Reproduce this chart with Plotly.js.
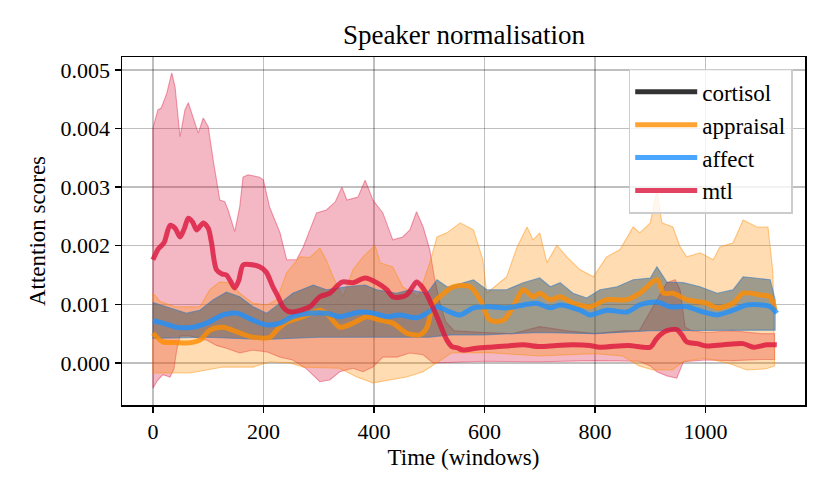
<!DOCTYPE html>
<html>
<head>
<meta charset="utf-8">
<script src="https://cdn.plot.ly/plotly-3.0.1.min.js"></script>
<style>
  html, body { margin: 0; padding: 0; background: #fff; }
  #chart { width: 830px; height: 498px; }
</style>
</head>
<body>
<div id="chart"></div>
<script>
// mtl
var mtlX = [0,10,20,31,40,49,57,64,72,79,91,100,106,115,125,133,140,148,155,163,175,193,205,217,227,235,245,253,268,284,302,320,342,362,384,405,423,434,446,459,468,477,487,496,505,514,523,532,541,550,561,585,610,640,670,700,730,760,790,809,860,900,910,918,930,948,957,966,985,1002,1032,1068,1087,1111,1129];
var mtlMean = [0.00176,0.00195,0.00205,0.00235,0.00230,0.00215,0.00230,0.00247,0.00240,0.00227,0.00239,0.00230,0.00205,0.00159,0.00152,0.00150,0.00140,0.00128,0.00140,0.00167,0.00168,0.00164,0.00155,0.00130,0.00112,0.00096,0.00088,0.00087,0.00090,0.00096,0.00113,0.00119,0.00138,0.00137,0.00145,0.00137,0.00125,0.00113,0.00112,0.00116,0.00127,0.00138,0.00130,0.00116,0.00098,0.00079,0.00058,0.00039,0.00028,0.00026,0.00022,0.00025,0.00027,0.00029,0.00031,0.00028,0.00030,0.00031,0.00030,0.00027,0.00030,0.00027,0.00040,0.00048,0.00055,0.00057,0.00048,0.00036,0.00033,0.00029,0.00031,0.00033,0.00027,0.00031,0.00031];
var mtlUpX = [0,9,15,25,34,40,49,58,64,72,82,91,100,109,121,130,136,148,157,163,172,193,200,211,230,242,260,272,296,314,330,342,351,371,384,398,416,434,452,465,477,489,501,510,520,530,545,600,650,700,750,800,850,880,905,920,930,945,954,963,975,1000,1050,1100,1125];
var mtlUp = [0.00401,0.00432,0.00435,0.00460,0.00495,0.00471,0.00386,0.00432,0.00444,0.00420,0.00392,0.00418,0.00403,0.00346,0.00278,0.00275,0.00261,0.00224,0.00266,0.00317,0.00321,0.00317,0.00312,0.00266,0.00222,0.00176,0.00176,0.00198,0.00256,0.00261,0.00275,0.00300,0.00278,0.00283,0.00312,0.00278,0.00256,0.00210,0.00215,0.00227,0.00258,0.00232,0.00193,0.00142,0.00100,0.00070,0.00055,0.00052,0.00050,0.00062,0.00055,0.00050,0.00055,0.00055,0.00096,0.00120,0.00137,0.00142,0.00125,0.00061,0.00055,0.00052,0.00055,0.00050,0.00050];
var mtlLoX = [0,8,18,31,38,43,49,67,97,115,133,157,181,206,230,253,278,302,320,338,362,380,398,416,441,465,489,507,532,600,700,800,880,900,912,930,948,960,1000,1050,1100,1125];
var mtlLo = [-0.00043,-0.00030,-0.00020,-0.00024,-0.00010,0.00022,0.00046,0.00046,0.00039,0.00030,0.00025,0.00017,0.00022,0.00019,0.00010,0.00005,-0.00010,-0.00032,-0.00029,-0.00015,-0.00009,-0.00015,-0.00007,0.00010,0.00010,0.00017,0.00014,0.00000,0.00000,0.00003,0.00002,0.00004,0.00003,-0.00005,-0.00015,-0.00022,-0.00026,0.00002,0.00005,0.00004,0.00006,0.00006];

// appraisal
var appX = [0,18,40,61,85,103,127,152,181,212,224,242,272,302,314,338,362,387,411,434,459,483,496,507,519,543,574,592,610,634,652,670,688,700,719,737,760,791,821,858,881,912,924,941,966,1002,1021,1050,1068,1099,1117,1126];
var appMean = [0.00051,0.00036,0.00035,0.00034,0.00039,0.00056,0.00061,0.00053,0.00044,0.00044,0.00056,0.00070,0.00079,0.00090,0.00085,0.00061,0.00068,0.00079,0.00073,0.00068,0.00051,0.00048,0.00061,0.00102,0.00113,0.00130,0.00130,0.00108,0.00073,0.00073,0.00096,0.00125,0.00113,0.00119,0.00108,0.00113,0.00102,0.00096,0.00108,0.00108,0.00119,0.00142,0.00119,0.00119,0.00108,0.00102,0.00094,0.00102,0.00119,0.00116,0.00113,0.00090];
var appUpX = [0,13,40,61,85,103,121,139,157,181,206,224,242,266,284,302,314,326,344,362,380,402,411,434,452,480,501,514,532,556,580,597,604,640,659,677,688,700,713,731,749,773,797,821,845,869,881,900,912,921,941,954,966,990,1014,1026,1050,1068,1093,1113,1122];
var appUp = [0.00119,0.00105,0.00096,0.00096,0.00096,0.00125,0.00138,0.00137,0.00119,0.00102,0.00099,0.00108,0.00154,0.00181,0.00180,0.00196,0.00175,0.00147,0.00113,0.00159,0.00181,0.00201,0.00171,0.00164,0.00130,0.00113,0.00171,0.00215,0.00222,0.00239,0.00227,0.00176,0.00119,0.00147,0.00198,0.00232,0.00210,0.00222,0.00171,0.00201,0.00181,0.00159,0.00147,0.00181,0.00193,0.00232,0.00222,0.00239,0.00295,0.00239,0.00232,0.00198,0.00181,0.00188,0.00176,0.00198,0.00205,0.00244,0.00232,0.00232,0.00154];
var appLoX = [0,67,127,181,212,248,272,338,369,398,429,459,489,514,540,600,650,700,750,800,850,880,905,940,960,1000,1040,1075,1110,1125];
var appLo = [-0.00017,-0.00017,-0.00007,-0.00007,0.00002,0.00000,-0.00007,-0.00009,-0.00024,-0.00034,-0.00029,-0.00024,-0.00015,0.00000,0.00017,0.00018,0.00015,0.00012,0.00014,0.00016,0.00012,-0.00005,-0.00012,-0.00012,0.00003,0.00008,0.00000,-0.00012,-0.00010,-0.00005];

// affect
var affX = [0,18,43,72,97,127,152,181,206,230,253,284,314,338,375,398,423,447,477,496,514,537,556,580,610,640,670,694,719,737,773,791,821,858,881,912,936,966,996,1021,1050,1075,1117,1129];
var affMean = [0.00072,0.00068,0.00061,0.00061,0.00068,0.00082,0.00085,0.00073,0.00065,0.00068,0.00079,0.00085,0.00085,0.00079,0.00087,0.00085,0.00079,0.00082,0.00077,0.00085,0.00096,0.00087,0.00082,0.00094,0.00096,0.00094,0.00099,0.00102,0.00094,0.00099,0.00090,0.00082,0.00090,0.00087,0.00099,0.00104,0.00096,0.00096,0.00087,0.00082,0.00090,0.00099,0.00096,0.00085];
var affUpX = [0,31,61,85,109,133,157,181,206,230,253,290,314,350,384,405,441,465,496,514,532,537,580,604,640,670,700,719,737,760,785,809,840,869,900,912,930,960,990,1021,1050,1068,1093,1117,1126];
var affUp = [0.00103,0.00094,0.00085,0.00090,0.00108,0.00121,0.00113,0.00096,0.00085,0.00102,0.00119,0.00133,0.00125,0.00130,0.00133,0.00125,0.00119,0.00125,0.00119,0.00142,0.00130,0.00130,0.00142,0.00125,0.00125,0.00137,0.00145,0.00130,0.00137,0.00119,0.00111,0.00125,0.00130,0.00142,0.00145,0.00164,0.00138,0.00137,0.00130,0.00119,0.00125,0.00147,0.00145,0.00142,0.00108];
var affLoX = [0,100,200,300,400,500,540,600,700,800,900,1000,1100,1126];
var affLo = [0.00042,0.00044,0.00040,0.00044,0.00044,0.00044,0.00048,0.00048,0.00052,0.00050,0.00055,0.00056,0.00056,0.00056];

function band(upX, up, loX, lo, fill, edge)
{
    // polygon: upper edge left to right, lower edge right to left
    var x = upX.slice();
    var y = up.slice();
    for(var iii = loX.length - 1; iii >= 0; iii--)
    {
        x.push(loX[iii]);
        y.push(lo[iii]);
    }
    x.push(upX[0]);
    y.push(up[0]);
    return {
        x: x, y: y, type: 'scatter', mode: 'lines', fill: 'toself',
        fillcolor: fill, line: {color: edge, width: 1.1},
        hoverinfo: 'skip', showlegend: false
    };
}

function meanLine(x, y, name, color, rank)
{
    return {
        x: x, y: y, type: 'scatter', mode: 'lines', name: name,
        line: {color: color, width: 5, shape: 'spline', smoothing: 0.8},
        legendgroup: name, legendrank: rank
    };
}

var traces = [
    band(mtlUpX, mtlUp, mtlLoX, mtlLo, 'rgba(220,20,60,0.30)', 'rgba(220,20,60,0.40)'),
    band(appUpX, appUp, appLoX, appLo, 'rgba(255,140,0,0.30)', 'rgba(255,140,0,0.45)'),
    band(affUpX, affUp, affLoX, affLo, 'rgba(45,78,95,0.46)', 'rgba(40,120,200,0.55)'),
    {x: [null], y: [null], type: 'scatter', mode: 'lines', name: 'cortisol',
     line: {color: 'rgba(0,0,0,0.8)', width: 5}, legendgroup: 'cortisol', legendrank: 1},
    meanLine(appX, appMean, 'appraisal', 'rgba(255,140,0,0.8)', 2),
    meanLine(affX, affMean, 'affect', 'rgba(30,144,255,0.8)', 3),
    meanLine(mtlX, mtlMean, 'mtl', 'rgba(220,20,60,0.8)', 4)
];

var font = 'Liberation Serif, DejaVu Serif, serif';
var layout = {
    width: 830,
    height: 498,
    margin: {l: 122, r: 25, t: 57, b: 93},
    paper_bgcolor: '#fff',
    plot_bgcolor: '#fff',
    font: {family: font, size: 22, color: '#000'},
    title: {text: 'Speaker normalisation', font: {family: font, size: 27}, x: 0.559, xanchor: 'center', y: 0.93, yanchor: 'middle'},
    xaxis: {
        range: [-56, 1180], tickvals: [0,200,400,600,800,1000], ticktext: ['0','200','400','600','800','1000'],
        showgrid: true, gridcolor: 'rgba(0,0,0,0.25)', gridwidth: 1.3,
        ticks: 'outside', ticklen: 6, tickwidth: 1.3, tickcolor: '#000',
        showline: true, linecolor: '#000', linewidth: 1.5, mirror: true, zeroline: false,
        tickfont: {size: 22},
        title: {text: 'Time (windows)', font: {size: 23}, standoff: 6}
    },
    yaxis: {
        range: [-0.000717, 0.00522], tickvals: [0,0.001,0.002,0.003,0.004,0.005],
        ticktext: ['0.000','0.001','0.002','0.003','0.004','0.005'],
        showgrid: true, gridcolor: 'rgba(0,0,0,0.25)', gridwidth: 1.3,
        ticks: 'outside', ticklen: 6, tickwidth: 1.3, tickcolor: '#000',
        showline: true, linecolor: '#000', linewidth: 1.5, mirror: true, zeroline: false,
        tickfont: {size: 22},
        title: {text: 'Attention scores', font: {size: 23}, standoff: 8}
    },
    legend: {
        x: 0.982, xanchor: 'right', y: 0.966, yanchor: 'top',
        bgcolor: 'rgba(255,255,255,0.8)', bordercolor: '#cccccc', borderwidth: 1.5,
        font: {family: font, size: 23}, tracegroupgap: 0, itemwidth: 62
    },
    showlegend: true
};

Plotly.newPlot('chart', traces, layout, {displayModeBar: false, staticPlot: true});
</script>
</body>
</html>
